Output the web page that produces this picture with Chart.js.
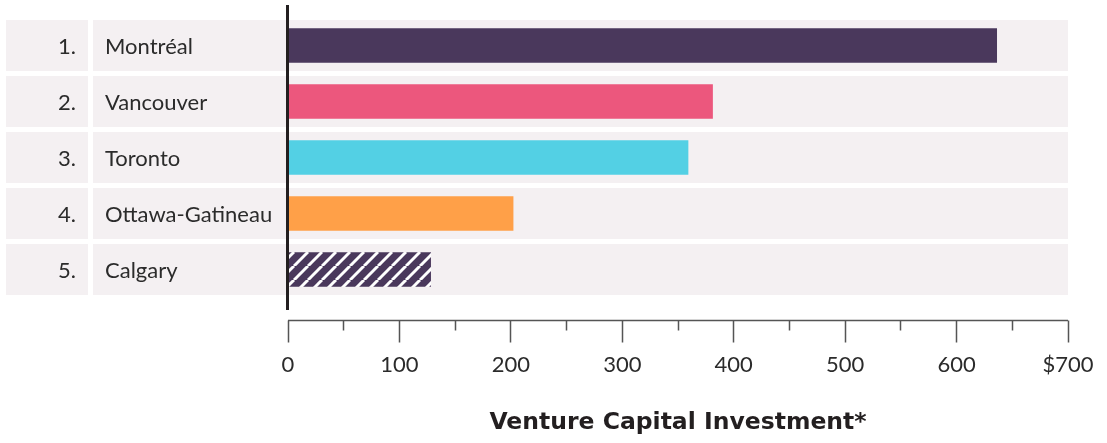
<!DOCTYPE html>
<html>
<head>
<meta charset="utf-8">
<script src="https://cdn.jsdelivr.net/npm/chart.js@4.4.0/dist/chart.umd.min.js"></script>
<style>
    html, body { margin: 0; padding: 0; background: #fff; }
    #wrap { width: 1107px; height: 443px; position: relative; }
</style>
</head>
<body>
<div id="wrap"><canvas id="vcChart"></canvas></div>
<script>
'use strict';

var vcRanks = ['1.', '2.', '3.', '4.', '5.'];
var vcCities = ['Montréal', 'Vancouver', 'Toronto', 'Ottawa-Gatineau', 'Calgary'];
var vcValues = [636, 381, 359, 202, 128];
var vcMax = 700;
var vcStep = 50;
var vcTitle = 'Venture Capital Investment*';

var vcFont = 'Lato, "Open Sans", sans-serif';
var vcRowBg = '#f4f0f2';
var vcText = '#2b2b2b';
var vcAxisY = 320; // where the value axis line sits

function vcHatch() {
    var c = document.createElement('canvas');
    c.width = 14; c.height = 14;
    var g = c.getContext('2d');
    g.fillStyle = '#4a385c';
    g.fillRect(0, 0, 14, 14);
    g.strokeStyle = '#ffffff';
    g.lineWidth = 3;
    // diagonal stripes going up to the right
    for (var k = -1; k <= 1; k++) {
        g.beginPath();
        g.moveTo(k * 14, 14);
        g.lineTo(k * 14 + 14, 0);
        g.stroke();
    }
    return g.createPattern(c, 'repeat');
}

var vcColors = ['#4a385c', '#ec577d', '#53d0e4', '#ffa048', vcHatch()];

// row cells, rank / city labels, the zero line and the axis line
var vcTable = {
    id: 'vcTable',
    beforeDatasetsDraw: function (chart) {
        var ctx = chart.ctx;
        var y = chart.scales.y;
        var x = chart.scales.x;
        var pitch = y.getPixelForValue(1) - y.getPixelForValue(0);
        var h = pitch - 5;
        ctx.save();
        vcCities.forEach(function (name, i) {
            var cy = y.getPixelForValue(i);
            var top = cy - h / 2;
            ctx.fillStyle = vcRowBg;
            ctx.fillRect(6, top, 82, h);
            ctx.fillRect(93, top, x.right - 93, h);
            ctx.fillStyle = vcText;
            ctx.font = '22px ' + vcFont;
            ctx.textBaseline = 'middle';
            ctx.textAlign = 'right';
            ctx.fillText(vcRanks[i], 76, cy + 1);
            ctx.textAlign = 'left';
            ctx.fillText(name, 105, cy + 1);
        });
        ctx.restore();
    },
    afterDatasetsDraw: function (chart) {
        var ctx = chart.ctx;
        var x = chart.scales.x;
        var x0 = x.getPixelForValue(0);
        ctx.save();
        ctx.strokeStyle = '#231f20';
        ctx.lineWidth = 3;
        ctx.beginPath();
        ctx.moveTo(x0 - 0.5, 5);
        ctx.lineTo(x0 - 0.5, 310);
        ctx.stroke();
        ctx.strokeStyle = '#555';
        ctx.lineWidth = 1.5;
        ctx.beginPath();
        ctx.moveTo(x.left, vcAxisY + 0.5);
        ctx.lineTo(x.right, vcAxisY + 0.5);
        ctx.stroke();
        ctx.restore();
    }
};

new Chart(document.getElementById('vcChart'), {
    type: 'bar',
    data: {
        labels: vcCities,
        datasets: [{
            data: vcValues,
            backgroundColor: vcColors,
            barThickness: 34,
            borderWidth: 0
        }]
    },
    plugins: [vcTable],
    options: {
        indexAxis: 'y',
        responsive: true,
        maintainAspectRatio: false,
        animation: false,
        layout: { padding: { left: 288, right: 39, top: 17.5, bottom: 0 } },
        plugins: { legend: { display: false }, tooltip: { enabled: false } },
        scales: {
            y: { display: false },
            x: {
                min: 0,
                max: vcMax,
                afterFit: function (s) { s.height = 145.5; },
                border: { display: false },
                grid: {
                    drawOnChartArea: false,
                    drawTicks: true,
                    tickLength: 45,
                    tickWidth: 1.5,
                    tickColor: '#555',
                    tickBorderDash: function (c) {
                        var v = c.tick ? c.tick.value : 0;
                        var gap = vcAxisY - c.chart.chartArea.bottom;
                        return v % 100 === 0 ? [0, gap, 22, 100] : [0, gap, 10, 100];
                    }
                },
                ticks: {
                    stepSize: vcStep,
                    autoSkip: false,
                    maxRotation: 0,
                    padding: 9,
                    color: vcText,
                    font: { family: vcFont, size: 22 },
                    callback: function (v) {
                        if (v % 100 !== 0) return '';
                        return v === vcMax ? '$' + v : String(v);
                    }
                },
                title: {
                    display: true,
                    text: vcTitle,
                    color: '#231f20',
                    font: { family: '"DejaVu Sans", sans-serif', size: 23.5, weight: 'bold' },
                    padding: { top: 10, bottom: 6 }
                }
            }
        }
    }
});
</script>
</body>
</html>
